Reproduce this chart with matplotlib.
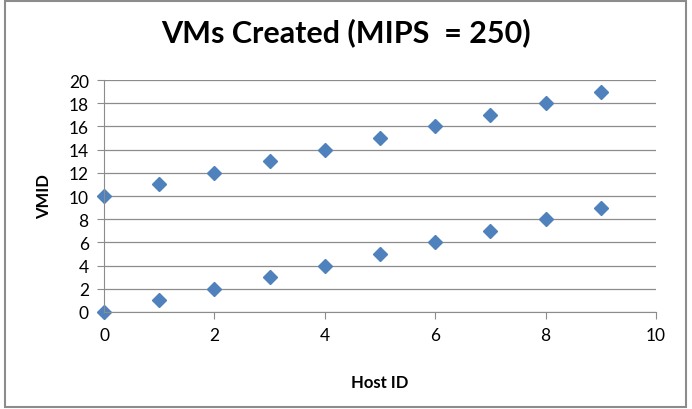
import matplotlib.pyplot as plt
from matplotlib.patches import Rectangle

host_ids = [0, 1, 2, 3, 4, 5, 6, 7, 8, 9]
vm_ids_a = [0, 1, 2, 3, 4, 5, 6, 7, 8, 9]
vm_ids_b = [10, 11, 12, 13, 14, 15, 16, 17, 18, 19]

plt.rcParams["font.family"] = ["Lato", "DejaVu Sans"]

fig = plt.figure(figsize=(6.92, 4.10), dpi=100)
ax = fig.add_axes([104 / 692, 1 - 313 / 410, (656 - 104) / 692, (313 - 81) / 410])

blue = "#4F81BD"
ax.plot(host_ids, vm_ids_a, "D", color=blue, markersize=7.5, clip_on=False)
ax.plot(host_ids, vm_ids_b, "D", color=blue, markersize=7.5, clip_on=False)

ax.set_xlim(0, 10)
ax.set_ylim(0, 20)
ax.set_xticks(range(0, 11, 2))
ax.set_yticks(range(0, 21, 2))
ax.grid(axis="y", color="#8c8c8c", linewidth=0.9)
ax.set_axisbelow(True)

for s in ("top", "right"):
    ax.spines[s].set_visible(False)
for s in ("left", "bottom"):
    ax.spines[s].set_color("#8c8c8c")
ax.tick_params(color="#8c8c8c", length=5, labelsize=12.5, pad=6)

ax.set_xlabel("Host ID", fontsize=12, fontweight="bold", labelpad=22)
ax.set_ylabel("VMID", fontsize=12, fontweight="bold", labelpad=12)
fig.suptitle("VMs Created (MIPS  = 250)", fontsize=22, fontweight="bold", y=0.955)

fig.patches.append(Rectangle((5 / 692, 2 / 410), 681 / 692, 406 / 410,
                             transform=fig.transFigure, fill=False,
                             edgecolor="#8c8c8c", linewidth=1.5))

fig.savefig("out.png", dpi=100)
